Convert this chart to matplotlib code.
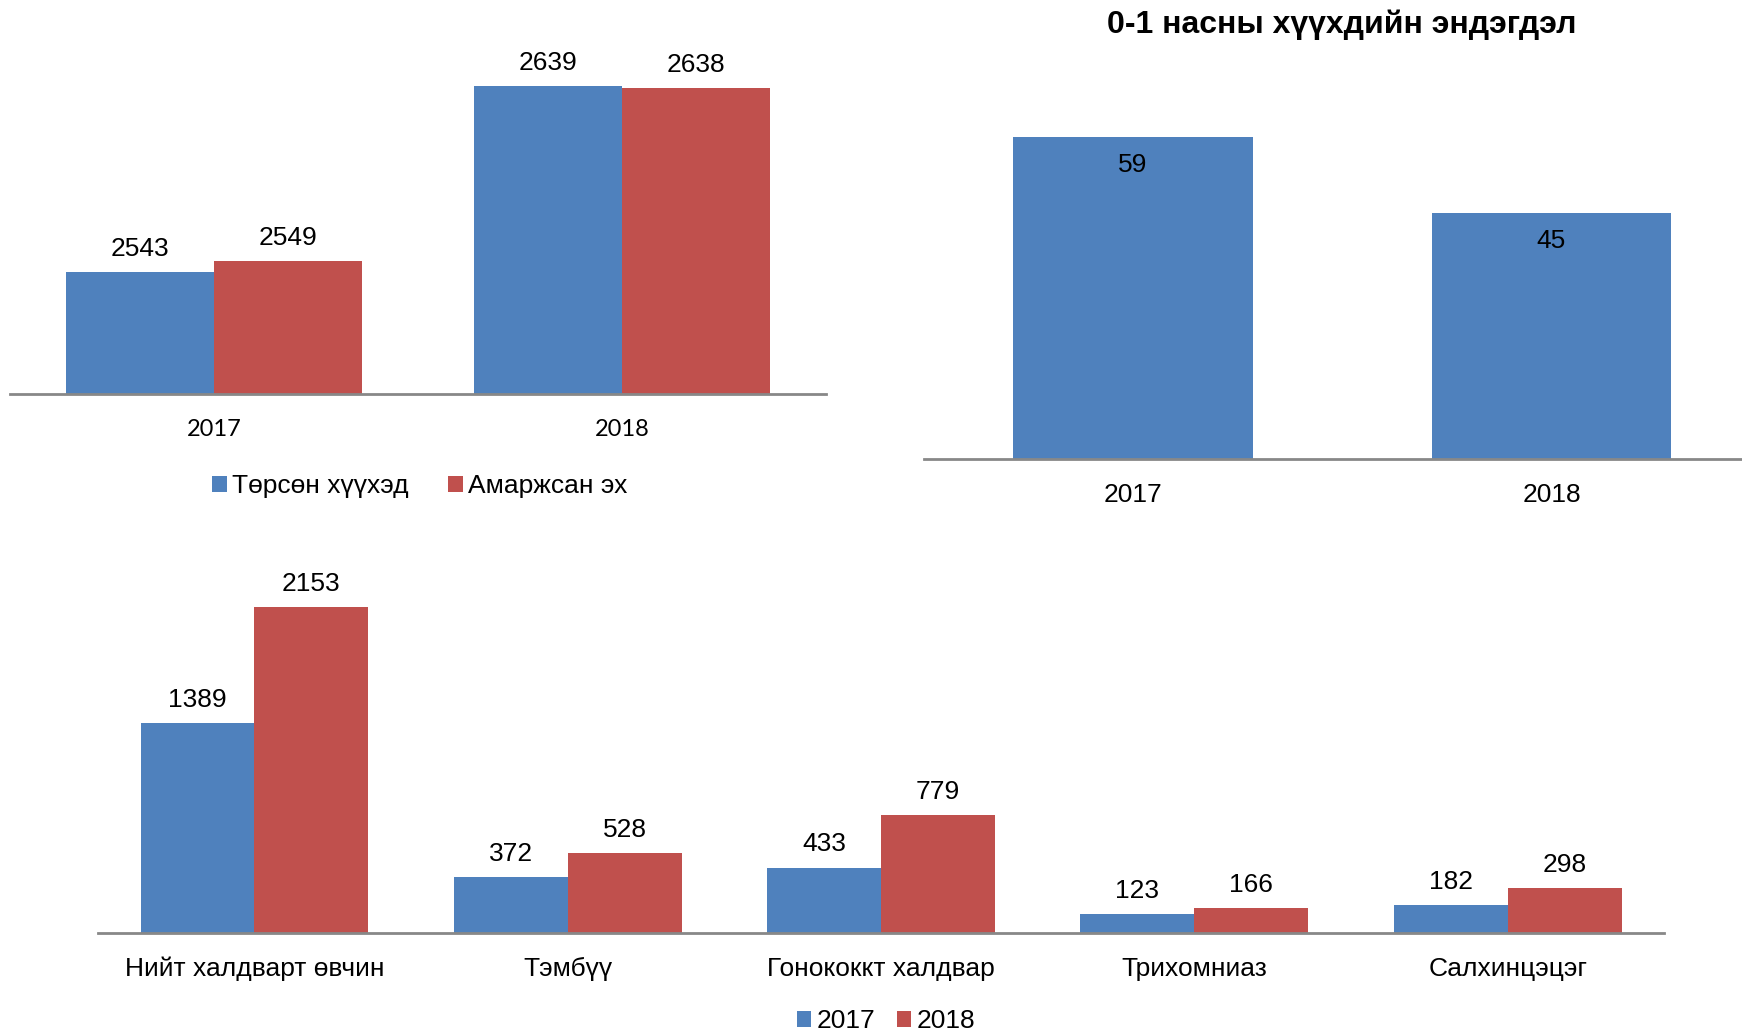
import matplotlib
matplotlib.use("Agg")
import matplotlib.pyplot as plt

plt.rcParams['font.family'] = ['Liberation Sans', 'DejaVu Sans']

BLUE = '#4F81BD'
RED = '#C0504D'
AXIS = '#888888'

# top left: births / mothers
years = ['2017', '2018']
born = [2543, 2639]
mothers = [2549, 2638]
birth_labels = ['Төрсөн хүүхэд', 'Амаржсан эх']

# top right: infant mortality
infant_title = '0-1 насны хүүхдийн эндэгдэл'
infant_deaths = [59, 45]

# bottom: infections
diseases = ['Нийт халдварт өвчин', 'Тэмбүү', 'Гонококкт халдвар', 'Трихомниаз', 'Салхинцэцэг']
inf_2017 = [1389, 372, 433, 123, 182]
inf_2018 = [2153, 528, 779, 166, 298]
inf_labels = ['2017', '2018']

W, H = 1742, 1033
fig = plt.figure(figsize=(W / 100, H / 100), dpi=100)


def px_axes(x0, y0, x1, y1):
    # pixel box (top-left origin) -> figure axes
    return fig.add_axes([x0 / W, 1 - y1 / H, (x1 - x0) / W, (y1 - y0) / H])


def style(ax):
    for s in ['top', 'right', 'left']:
        ax.spines[s].set_visible(False)
    ax.spines['bottom'].set_color(AXIS)
    ax.spines['bottom'].set_linewidth(2)
    ax.set_yticks([])
    ax.tick_params(axis='x', length=0)


bw = 1 / 2.75
FS = 19

# ---- top left
ax1 = px_axes(10, 20, 826, 394.5)
style(ax1)
x = range(len(years))
b1 = ax1.bar([i - bw / 2 for i in x], born, bw, color=BLUE, label=birth_labels[0])
b2 = ax1.bar([i + bw / 2 for i in x], mothers, bw, color=RED, label=birth_labels[1])
ax1.set_xlim(-0.5, 1.5)
ax1.set_ylim(2480, 2673)
ax1.set_xticks(list(x))
ax1.set_xticklabels(years, family=['Lato', 'DejaVu Sans'], fontsize=17)
ax1.tick_params(axis='x', pad=18)
for bars in (b1, b2):
    ax1.bar_label(bars, fontsize=FS, padding=8)
fig.legend(handles=[b1, b2], loc='center', bbox_to_anchor=(420 / W, 1 - 486 / H), ncol=2,
           frameon=False, fontsize=FS, handlelength=0.55, handleheight=0.55,
           handletextpad=0.2, columnspacing=1.5)

# ---- top right
ax2 = px_axes(923.7, 60, 1760.7, 459)
style(ax2)
x2 = range(len(years))
b3 = ax2.bar(list(x2), infant_deaths, 1 / 1.75, color=BLUE)
ax2.set_xlim(-0.5, 1.5)
ax2.set_ylim(0, 73)
ax2.set_xticks(list(x2))
ax2.set_xticklabels(years, fontsize=FS)
ax2.tick_params(axis='x', pad=17)
ax2.bar_label(b3, label_type='edge', padding=-29, fontsize=FS)
fig.text(1342 / W, 1 - 25 / H, infant_title, ha='center', va='center',
         fontsize=23, fontweight='bold')

# ---- bottom
ax3 = px_axes(97.8, 560, 1664.3, 933)
style(ax3)
x3 = range(len(diseases))
b4 = ax3.bar([i - bw / 2 for i in x3], inf_2017, bw, color=BLUE, label=inf_labels[0])
b5 = ax3.bar([i + bw / 2 for i in x3], inf_2018, bw, color=RED, label=inf_labels[1])
ax3.set_xlim(-0.5, 4.5)
ax3.set_ylim(0, 2467)
ax3.set_xticks(list(x3))
ax3.set_xticklabels(diseases, fontsize=FS)
ax3.tick_params(axis='x', pad=17)
for bars in (b4, b5):
    ax3.bar_label(bars, fontsize=FS, padding=8)
fig.legend(handles=[b4, b5], loc='center', bbox_to_anchor=(886 / W, 1 - 1021 / H), ncol=2,
           frameon=False, fontsize=FS, handlelength=0.55, handleheight=0.55,
           handletextpad=0.2, columnspacing=0.8)

fig.savefig('out.png', dpi=100)
